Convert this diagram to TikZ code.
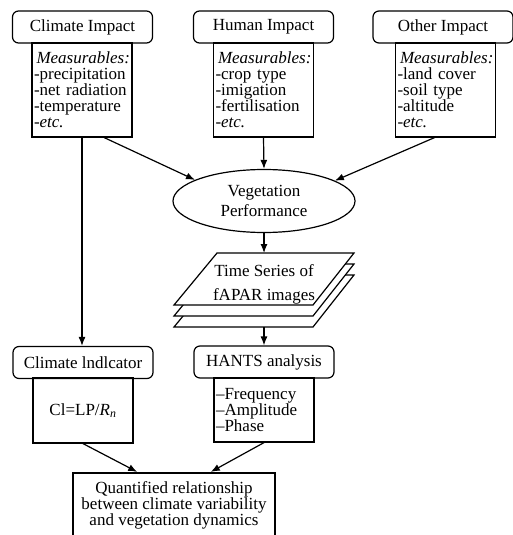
\documentclass[tikz,border=0pt]{standalone}
\usepackage{fontspec}
\setmainfont{Liberation Serif}[ItalicFont={Liberation Serif Italic}]
\usetikzlibrary{arrows.meta,shapes.geometric}

\begin{document}
\begin{tikzpicture}[x=1pt,y=-1pt,font=\fontsize{17}{16}\selectfont]

\tikzset{headbox/.style = {shape=rectangle,draw,rounded corners=6pt,line width=1.2pt,minimum width=140pt,minimum height=32pt,inner sep=0pt}}
\tikzset{bodybox/.style = {shape=rectangle,draw,line width=1.2pt,text width=96pt,inner xsep=2pt,minimum height=94pt,align=left}}
\tikzset{vertex/.style = {shape=ellipse,draw,line width=1.2pt,minimum width=182pt,minimum height=63pt,inner sep=0pt,align=center}}
\tikzset{sheet/.style = {draw,fill=white,line width=1.2pt}}
\tikzset{resultbox/.style = {shape=rectangle,draw,line width=2.2pt,minimum width=202pt,minimum height=64pt,align=center}}
\tikzset{flow/.style = {-{Latex[length=9pt,width=7pt]},line width=1.2pt}}

\useasboundingbox (0,0) rectangle (513,535);

% impacts
\node[headbox] (climhead) at (82.5,27) {Climate Impact};
\node[bodybox] (climbody) at (82,90) {\hspace*{\fill}\textit{Measurables:}\\-precipitation\\-net radiation\\-temperature\\-\textit{etc.}};
\node[headbox] (humhead) at (263.5,27) {Human Impact};
\node[bodybox] (humbody) at (263.5,90) {\hspace*{\fill}\textit{Measurables:}\\-crop type\\-imigation\\-fertilisation\\-\textit{etc.}};
\node[headbox] (othhead) at (443,27) {Other Impact};
\node[bodybox] (othbody) at (445.5,90) {\hspace*{\fill}\textit{Measurables:}\\-land cover\\-soil type\\-altitude\\-\textit{etc.}};

% vegetation and image stack
\node[vertex] (veg) at (264,201) {Vegetation\\[4pt]Performance};
\draw[sheet] (174,327) -- (313,327) -- (354,275) -- (217,275) -- cycle;
\draw[sheet] (174,316) -- (313,316) -- (354,264) -- (217,264) -- cycle;
\draw[sheet] (174,305) -- (313,305) -- (354,253) -- (217,253) -- cycle;
\node[align=center] (series) at (264,284) {Time Series of\\[8pt]fAPAR images};
\coordinate (stacktop) at (264,253);
\coordinate (stackbot) at (264,327);

% analysis
\node[headbox] (cihead) at (83,362.5) {Climate lndlcator};
\node[bodybox,minimum height=65pt,align=center] (cibody) at (83,410.5) {Cl=LP/\textit{R}\textsubscript{\textit{n}}};
\node[headbox] (hantshead) at (264,362) {HANTS analysis};
\node[bodybox,minimum height=64pt] (hantsbody) at (264,410) {--Frequency\\--Amplitude\\--Phase};
\node[resultbox] (final) at (174,505) {Quantified relationship\\between climate variability\\and vegetation dynamics};

%edges
\draw[flow] (climbody.-65) to (veg.163);
\draw[flow] (humbody.south) to (veg.north);
\draw[flow] (othbody.-103) to (veg.16);
\draw[flow] (veg.south) to (stacktop);
\draw[flow] (stackbot) to (hantshead.north);
\draw[flow] (climbody.south) to (climbody.south |- cihead.north);
\draw[flow] (cibody.south) to (final.138);
\draw[flow] (hantsbody.south) to (final.42);
\end{tikzpicture}
\end{document}
